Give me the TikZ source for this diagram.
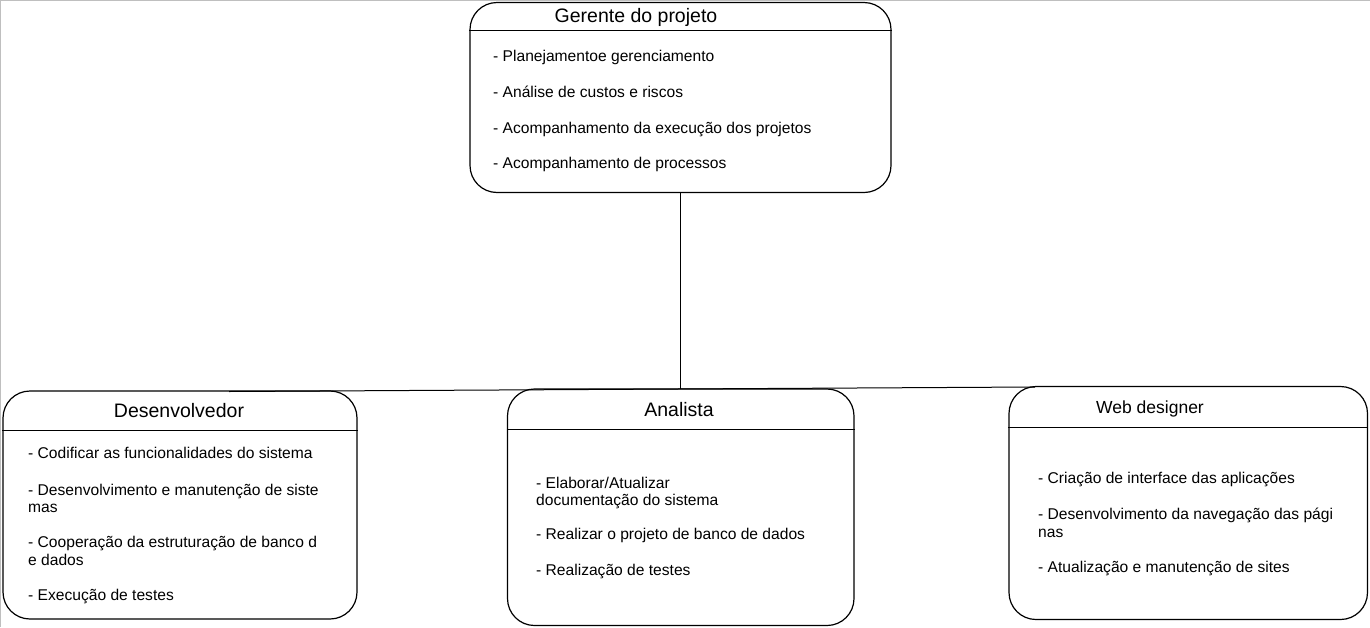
\documentclass[tikz,border=0pt]{standalone}
\usepackage{fontspec}
\setmainfont{Liberation Sans}
\begin{document}
\begin{tikzpicture}[x=1pt,y=-1pt,
  box/.style={draw, line width=1.2pt, rounded corners=27pt, inner sep=0pt},
  ttl/.style={font=\fontsize{19.5}{22}\selectfont, anchor=base, inner sep=0pt},
  ttlsmall/.style={font=\fontsize{17.5}{20}\selectfont, anchor=base, inner sep=0pt},
  itm/.style={font=\fontsize{15.6}{17}\selectfont, anchor=base west, inner sep=0pt},
  conn/.style={line width=1pt},
  frame/.style={draw=gray!50, line width=1pt}]
\useasboundingbox (0,0) rectangle (1370,627);
\draw[frame] (0,0.5) -- (1370,0.5);
\draw[frame] (0.5,0) -- (0.5,627);

% boxes
\node[box, minimum width=421pt, minimum height=190pt] (gp) at (680.5,97.5) {};
\node[box, minimum width=354pt, minimum height=228pt] (dev) at (180,505) {};
\node[box, minimum width=346.5pt, minimum height=236.5pt] (ana) at (680.75,507.25) {};
\node[box, minimum width=358.5pt, minimum height=233pt] (web) at (1188.25,503) {};

% header separators
\draw[line width=1pt] (gp.west |- 0,30) -- (gp.east |- 0,30);
\draw[line width=1pt] (dev.west |- 0,430) -- (dev.east |- 0,430);
\draw[line width=1pt] (ana.west |- 0,429) -- (ana.east |- 0,429);
\draw[line width=1pt] (web.west |- 0,427) -- (web.east |- 0,427);

% connectors
\coordinate (hl) at (229,391.5);
\coordinate (hr) at (1035,387);
\coordinate (j) at (680.5,389);
\draw[conn] (hl) -- (hr);
\draw[conn] (gp.south) -- (j);

% titles
\node[ttl] (gpt) at (636,22) {Gerente do projeto};
\node[ttl] (devt) at (179,417) {Desenvolvedor};
\node[ttl] (anat) at (679,416) {Analista};
\node[ttlsmall] (webt) at (1150,413.5) {Web designer};

% gerente items
\node[itm] (g1) at (493,61.5) {- Planejamentoe gerenciamento};
\node[itm] (g2) at (493,97.5) {- Análise de custos e riscos};
\node[itm] (g3) at (493,133.5) {- Acompanhamento da execução dos projetos};
\node[itm] (g4) at (493,168.5) {- Acompanhamento de processos};

% desenvolvedor items
\node[itm] (d1) at (28,458.5) {- Codificar as funcionalidades do sistema};
\node[itm] (d2a) at (28,495.5) {- Desenvolvimento e manutenção de siste};
\node[itm] (d2b) at (28,512.5) {mas};
\node[itm] (d3a) at (28,547.5) {- Cooperação da estruturação de banco d};
\node[itm] (d3b) at (28,565.5) {e dados};
\node[itm] (d4) at (28,600.5) {- Execução de testes};

% analista items
\node[itm] (a1a) at (536,488.5) {- Elaborar/Atualizar};
\node[itm] (a1b) at (536,505.5) {documentação do sistema};
\node[itm] (a2) at (536,539.5) {- Realizar o projeto de banco de dados};
\node[itm] (a3) at (536,575.5) {- Realização de testes};

% web designer items
\node[itm] (w1) at (1038,483.5) {- Criação de interface das aplicações};
\node[itm] (w2a) at (1038,519.5) {- Desenvolvimento da navegação das pági};
\node[itm] (w2b) at (1038,537.5) {nas};
\node[itm] (w3) at (1038,572.5) {- Atualização e manutenção de sites};
\end{tikzpicture}
\end{document}
